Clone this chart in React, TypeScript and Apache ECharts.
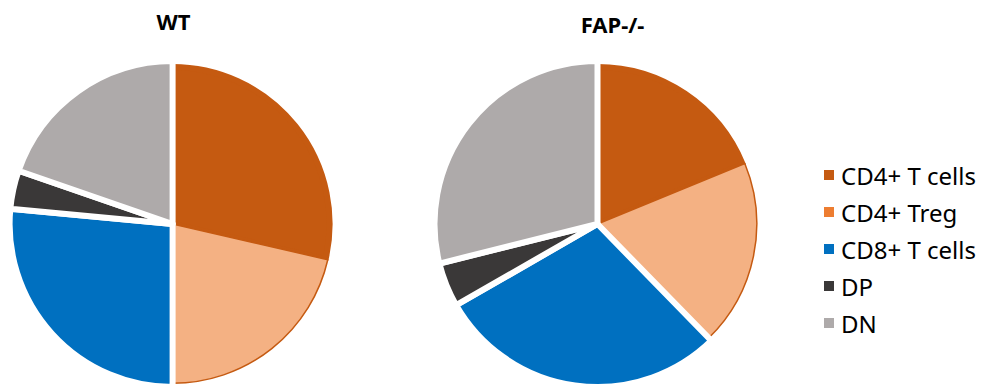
import React, { useEffect, useRef } from "react";
import * as echarts from "echarts";

// Cell population shares (%) for each genotype
const categories = ["CD4+ T cells", "CD4+ Treg", "CD8+ T cells", "DP", "DN"];
const wtValues = [28.6, 21.4, 26.5, 3.8, 19.7];
const fapValues = [18.8, 18.9, 29.0, 4.4, 28.9];
const groupTitles = ["WT", "FAP-/-"];

const sliceColors = ["#C55A11", "#F4B183", "#0070C0", "#3A3838", "#AEAAAA"];
const legendColors = ["#C55A11", "#ED7D31", "#0070C0", "#3A3838", "#AEAAAA"];
const tregOutline = "#C55A11";

const R = 163; // outer radius before the white outline eats into it
const GAP = 6; // width of the white separator lines

const hidden = { color: "transparent", borderWidth: 0 };

// Each pie is layered: the CD4 slice, then the outlined Treg slice,
// then the remaining slices with white separators on top.
function pieLayers(values: number[], cx: number, cy: number) {
  const base = {
    type: "pie",
    center: [cx, cy],
    startAngle: 90,
    clockwise: true,
    silent: true,
    label: { show: false },
    labelLine: { show: false },
    emphasis: { disabled: true },
    avoidLabelOverlap: false,
  };
  const cd4 = {
    ...base,
    radius: [0, R - GAP],
    data: categories.map((name, i) => ({
      name,
      value: values[i],
      itemStyle:
        i === 0
          ? { color: sliceColors[0], borderColor: sliceColors[0], borderWidth: GAP, borderJoin: "round" }
          : hidden,
    })),
  };
  const treg = {
    ...base,
    radius: [0, R - GAP / 2 - 0.75],
    data: categories.map((name, i) => ({
      name,
      value: values[i],
      itemStyle:
        i === 1
          ? { color: sliceColors[1], borderColor: tregOutline, borderWidth: 1.5, borderJoin: "round" }
          : hidden,
    })),
  };
  const rest = {
    ...base,
    radius: [0, R],
    data: categories.map((name, i) => ({
      name,
      value: values[i],
      itemStyle:
        i >= 2
          ? { color: sliceColors[i], borderColor: "#ffffff", borderWidth: GAP, borderJoin: "round" }
          : hidden,
    })),
  };
  return [cd4, treg, rest];
}

export default function App() {
  const ref = useRef<HTMLDivElement>(null);

  useEffect(() => {
    if (!ref.current) return;
    const chart = echarts.init(ref.current, null, { renderer: "svg" });
    const font = "'Noto Sans', 'Liberation Sans', sans-serif";
    chart.setOption({
      animation: false,
      backgroundColor: "#ffffff",
      graphic: [
        {
          type: "text",
          x: 173.5,
          y: 21,
          style: {
            text: groupTitles[0],
            fontFamily: font,
            fontWeight: "bold",
            fontSize: 22,
            fill: "#000000",
            textAlign: "center",
            textVerticalAlign: "middle",
          },
        },
        {
          type: "text",
          x: 612.5,
          y: 24,
          style: {
            text: groupTitles[1],
            fontFamily: font,
            fontWeight: "bold",
            fontSize: 22,
            fill: "#000000",
            textAlign: "center",
            textVerticalAlign: "middle",
          },
        },
      ],
      legend: {
        orient: "vertical",
        left: 819,
        top: 157,
        selectedMode: false,
        icon: "rect",
        itemWidth: 10,
        itemHeight: 10,
        itemGap: 11,
        itemStyle: { borderWidth: 0 },
        textStyle: {
          fontFamily: font,
          fontSize: 24,
          color: "#000000",
          lineHeight: 26,
          padding: [0, 0, 0, 2],
        },
        data: categories.map((name, i) => ({
          name,
          itemStyle: { color: legendColors[i], borderWidth: 0 },
        })),
      },
      series: [...pieLayers(wtValues, 172.6, 224), ...pieLayers(fapValues, 597.5, 224)],
    });
    return () => chart.dispose();
  }, []);

  return (
    <div
      ref={ref}
      style={{ position: "fixed", left: 0, top: 0, width: 989, height: 385 }}
    />
  );
}
